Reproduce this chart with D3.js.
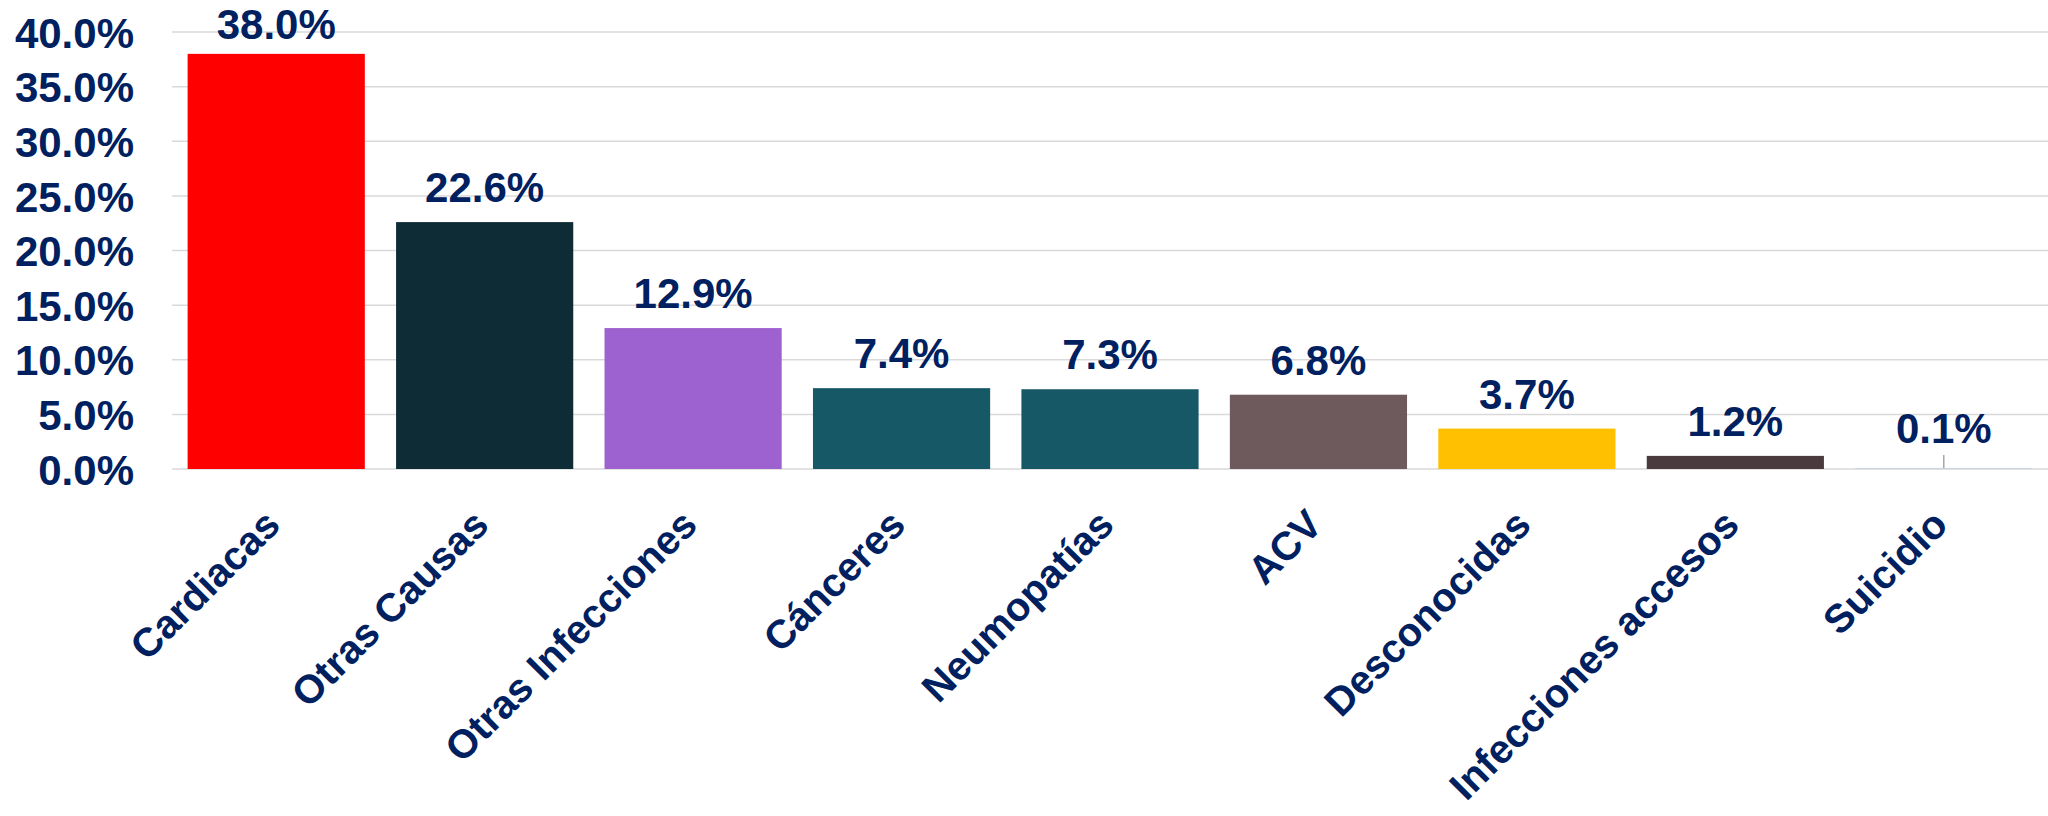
<!DOCTYPE html>
<html>
<head>
<meta charset="utf-8">
<script src="https://cdn.jsdelivr.net/npm/d3@7"></script>
<style>
  html, body { margin: 0; padding: 0; background: #fff; }
  svg text { font-family: "Liberation Sans", Arial, sans-serif; font-weight: bold; fill: #002060; }
</style>
</head>
<body>
<div id="chart"></div>
<script>
const categories = ["Cardiacas", "Otras Causas", "Otras Infecciones", "Cánceres", "Neumopatías", "ACV", "Desconocidas", "Infecciones accesos", "Suicidio"];
const values = [38.0, 22.6, 12.9, 7.4, 7.3, 6.8, 3.7, 1.2, 0.1];
const colors = ["#ff0000", "#0e2c36", "#9e62d0", "#165866", "#165866", "#6e5a5c", "#fec000", "#4a3a3e", "#c9d6da"];
const yTicks = [0, 5, 10, 15, 20, 25, 30, 35, 40];

const width = 2048;
const height = 816;
const margin = { top: 32, right: 0, bottom: 347, left: 172 };

const svg = d3.select("#chart")
  .append("svg")
  .attr("width", width)
  .attr("height", height);

const x = d3.scaleBand()
  .domain(categories)
  .range([margin.left, width - margin.right])
  .paddingInner(0.15)
  .paddingOuter(0.075);

const y = d3.scaleLinear()
  .domain([0, 40])
  .range([height - margin.bottom, margin.top]);

// gridlines
svg.append("g")
  .selectAll("line")
  .data(yTicks)
  .enter().append("line")
    .attr("x1", margin.left)
    .attr("x2", width - margin.right)
    .attr("y1", d => y(d))
    .attr("y2", d => y(d))
    .attr("stroke", "#d9d9d9")
    .attr("stroke-width", 1.5);

// y axis labels
const yAxis = d3.axisLeft(y)
  .tickValues(yTicks)
  .tickSize(0)
  .tickPadding(0)
  .tickFormat(d => d.toFixed(1) + "%");

svg.append("g")
  .attr("transform", `translate(${margin.left - 38},0)`)
  .call(yAxis)
  .call(g => g.select(".domain").remove())
  .selectAll("text")
    .attr("font-size", 42)
    .attr("dy", "0.36em")
    .attr("fill", "#002060")
    .style("font-family", "'Liberation Sans', Arial, sans-serif");

// bars
svg.append("g")
  .selectAll("rect")
  .data(values)
  .enter().append("rect")
    .attr("x", (d, i) => x(categories[i]))
    .attr("width", x.bandwidth())
    .attr("y", d => y(d))
    .attr("height", d => y(0) - y(d))
    .attr("fill", (d, i) => colors[i]);

// leader line for the tiny bar
const last = values.length - 1;
svg.append("line")
  .attr("x1", x(categories[last]) + x.bandwidth() / 2)
  .attr("x2", x(categories[last]) + x.bandwidth() / 2)
  .attr("y1", y(values[last]) - 13)
  .attr("y2", y(values[last]))
  .attr("stroke", "#a6a6a6")
  .attr("stroke-width", 1.5);

// value labels
svg.append("g")
  .selectAll("text")
  .data(values)
  .enter().append("text")
    .attr("x", (d, i) => x(categories[i]) + x.bandwidth() / 2)
    .attr("y", (d, i) => i === last ? y(d) - 25 : Math.max(y(d) - 20, 39))
    .attr("text-anchor", "middle")
    .attr("font-size", 42)
    .text(d => d.toFixed(1) + "%");

// category labels, rotated
svg.append("g")
  .selectAll("text")
  .data(categories)
  .enter().append("text")
    .attr("text-anchor", "end")
    .attr("font-size", 40)
    .attr("transform", d => `translate(${x(d) + x.bandwidth() / 2 + 6},${y(0) + 58}) rotate(-45)`)
    .text(d => d);
</script>
</body>
</html>
